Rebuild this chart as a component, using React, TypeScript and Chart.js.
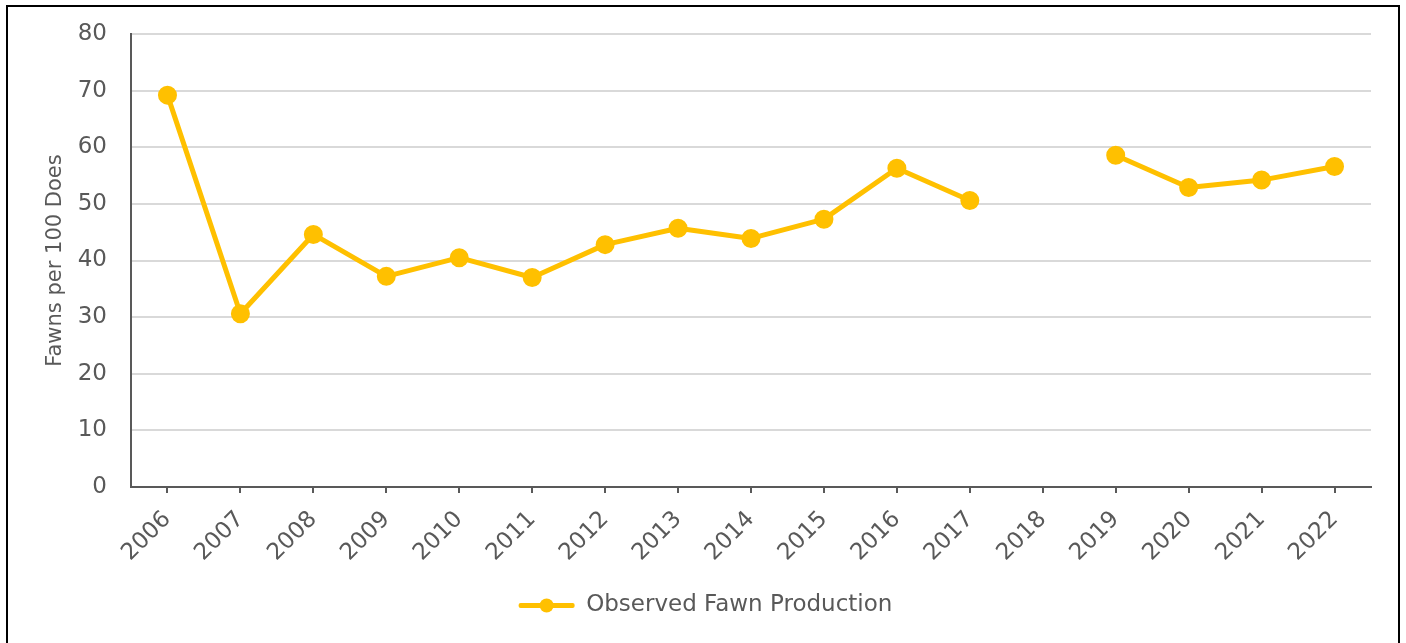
import React, { useEffect, useRef } from "react";
import { Chart, registerables } from "chart.js";

Chart.register(...registerables);

const years: string[] = [
  "2006", "2007", "2008", "2009", "2010", "2011", "2012", "2013", "2014",
  "2015", "2016", "2017", "2018", "2019", "2020", "2021", "2022",
];

// Fawns per 100 does; 2018 has no survey value
const fawnsPer100Does: (number | null)[] = [
  69.2, 30.6, 44.6, 37.2, 40.5, 37.0, 42.8, 45.7, 43.9,
  47.3, 56.3, 50.6, null, 58.6, 52.9, 54.2, 56.6,
];

const yTicks: number[] = [0, 10, 20, 30, 40, 50, 60, 70, 80];

const SERIES_LABEL = "Observed Fawn Production";
const GOLD = "#FFC000";
const TEXT = "#595959";
const FONT = "'DejaVu Sans', Tahoma, Verdana, sans-serif";

// Draws a round marker over the legend line so the key shows line + point
const legendMarker = {
  id: "legendMarker",
  afterDraw(chart: any) {
    const legend = chart.legend;
    if (!legend || !legend.legendHitBoxes || !legend.legendHitBoxes.length) return;
    const box = legend.legendHitBoxes[0];
    const bw = chart.options.plugins.legend.labels.boxWidth;
    const fs = chart.options.plugins.legend.labels.font.size;
    const cx = box.left + bw / 2;
    const cy = box.top + fs / 2;
    const ctx = chart.ctx;
    ctx.save();
    ctx.fillStyle = GOLD;
    ctx.beginPath();
    ctx.arc(cx, cy, 7, 0, Math.PI * 2);
    ctx.fill();
    ctx.restore();
  },
};

export default function App() {
  const canvasRef = useRef<HTMLCanvasElement | null>(null);

  useEffect(() => {
    if (!canvasRef.current) return;
    const chart = new Chart(canvasRef.current, {
      type: "line",
      data: {
        labels: years,
        datasets: [
          {
            label: SERIES_LABEL,
            data: fawnsPer100Does,
            borderColor: GOLD,
            backgroundColor: GOLD,
            borderWidth: 5,
            pointRadius: 7,
            pointHoverRadius: 7,
            pointBackgroundColor: GOLD,
            pointBorderColor: GOLD,
            spanGaps: false,
            tension: 0,
            borderCapStyle: "round",
            borderJoinStyle: "round",
          },
        ],
      },
      options: {
        animation: false,
        responsive: false,
        maintainAspectRatio: false,
        layout: { padding: { top: 34, left: 40, right: 35, bottom: 16 } },
        plugins: {
          tooltip: { enabled: false },
          legend: {
            position: "bottom",
            labels: {
              color: TEXT,
              font: { family: FONT, size: 23 },
              boxWidth: 56,
              boxHeight: 5,
              padding: 10,
              generateLabels: () => [
                {
                  text: SERIES_LABEL,
                  fillStyle: GOLD,
                  strokeStyle: GOLD,
                  lineWidth: 0,
                  borderRadius: 2,
                  fontColor: TEXT,
                  datasetIndex: 0,
                  hidden: false,
                },
              ],
            },
          },
        },
        scales: {
          x: {
            offset: true,
            afterFit: (s: any) => {
              s.height = 97;
            },
            grid: {
              offset: false,
              drawOnChartArea: false,
              drawTicks: true,
              tickLength: 6,
              color: TEXT,
              lineWidth: 2,
            },
            border: { color: TEXT, width: 2 },
            ticks: {
              color: TEXT,
              font: { family: FONT, size: 23 },
              maxRotation: 45,
              minRotation: 45,
              padding: 13,
              autoSkip: false,
            },
          },
          y: {
            min: 0,
            max: 80,
            afterBuildTicks: (s: any) => {
              s.ticks = yTicks.map((v) => ({ value: v }));
            },
            afterFit: (s: any) => {
              s.width = 91;
            },
            grid: {
              color: "#D9D9D9",
              lineWidth: 2,
              drawTicks: true,
              tickLength: 24,
              tickColor: "rgba(0,0,0,0)",
            },
            border: { display: true, color: TEXT, width: 2 },
            ticks: {
              color: TEXT,
              font: { family: FONT, size: 23 },
              padding: 0,
            },
            title: {
              display: true,
              text: "Fawns per 100 Does",
              color: TEXT,
              font: { family: FONT, size: 21 },
              padding: { top: 3, bottom: 0 },
            },
          },
        },
      },
      plugins: [legendMarker],
    });
    return () => chart.destroy();
  }, []);

  return (
    <div>
      <div
        style={{
          position: "fixed",
          left: 6,
          top: 5,
          width: 1394,
          height: 700,
          border: "2px solid #000",
          boxSizing: "border-box",
          background: "#fff",
        }}
      />
      <canvas
        ref={canvasRef}
        width={1406}
        height={643}
        style={{ position: "fixed", left: 0, top: 0, width: 1406, height: 643 }}
      />
    </div>
  );
}
